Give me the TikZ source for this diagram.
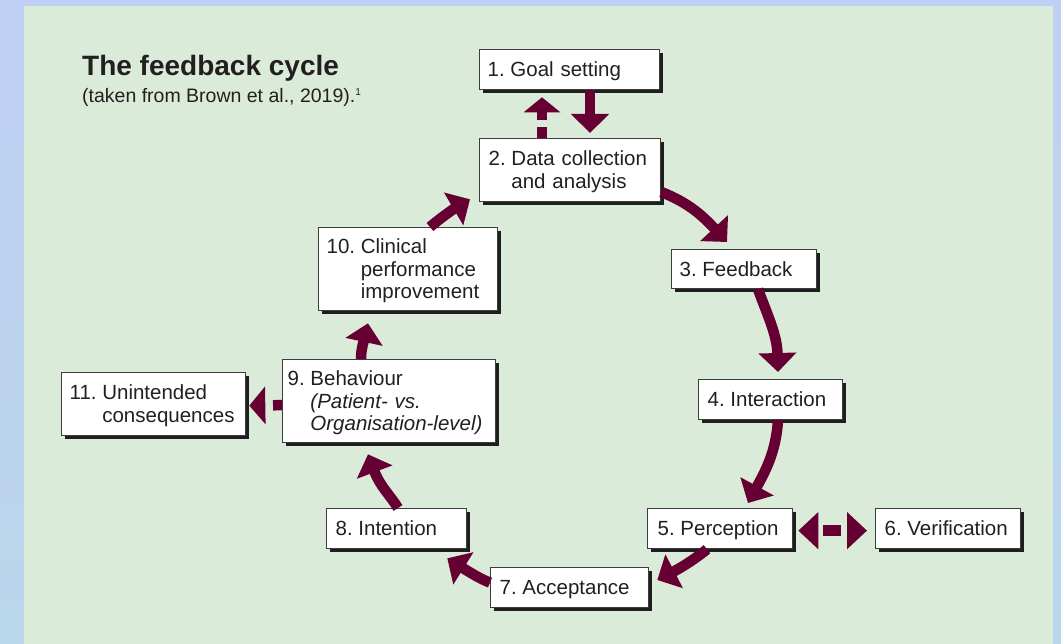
\documentclass[tikz,border=0pt]{standalone}
\usepackage{fontspec}
\setmainfont{Liberation Sans}
\usetikzlibrary{arrows.meta,shadows,calc}
\definecolor{maroonc}{RGB}{102,0,51}
\definecolor{panelc}{RGB}{219,235,218}
\definecolor{bgtop}{RGB}{190,207,243}
\definecolor{bgbot}{RGB}{186,214,234}
\definecolor{textc}{RGB}{35,31,32}
\definecolor{borderc}{RGB}{60,60,60}
\definecolor{shadowc}{RGB}{30,30,30}
\newcommand\bxtab[1]{\setbox\strutbox\hbox{\vrule height18.25pt depth4.25pt width0pt}\begin{tabular}{@{}l@{\hspace{5.7pt}}l@{}}#1\end{tabular}}
\tikzset{
  box/.style={draw=borderc, line width=1.3pt, fill=white,
    drop shadow={shadow xshift=3.5pt,shadow yshift=-3.5pt,opacity=1,fill=shadowc},
    anchor=north west, inner xsep=8pt, inner ysep=0pt,
    font=\fontsize{20.5}{22.5}\selectfont, text=textc, align=left},
  arr/.style={draw=maroonc, line width=10.5pt, -{Triangle[width=37pt,length=19pt]}}
}
\begin{document}
\begin{tikzpicture}[x=1pt,y=-1pt]
\useasboundingbox (0,0) rectangle (1061,644);
\fill[top color=bgtop, bottom color=bgbot] (0,0) rectangle (1061,644);
\fill[panelc] (24,6) rectangle (1053,644);

\node[anchor=base west, inner sep=0pt, font=\fontsize{28}{32}\selectfont\bfseries, text=textc] (title) at (82,76) {The feedback cycle};
\node[anchor=base west, inner sep=0pt, font=\fontsize{19.5}{22}\selectfont, text=textc] (sub) at (82,103) {(taken from Brown et al., 2019).\raisebox{7pt}{\fontsize{10}{10}\selectfont 1}};

\node[box, minimum width=180pt, minimum height=40pt, text width=164pt] (b1) at (479,49) {\bxtab{1. & Goal setting}};
\node[box, minimum width=181pt, minimum height=63pt, inner xsep=9pt, text width=163pt] (b2) at (479,138) {\bxtab{2. & Data collection\\ & and analysis}};
\node[box, minimum width=145pt, minimum height=39pt, text width=129pt] (b3) at (671,249) {\bxtab{3. & Feedback}};
\node[box, minimum width=144pt, minimum height=40pt, inner xsep=9pt, text width=126pt] (b4) at (698,379) {\bxtab{4. & Interaction}};
\node[box, minimum width=145pt, minimum height=40pt, inner xsep=10pt, text width=125pt] (b5) at (647,508) {\bxtab{5. & Perception}};
\node[box, minimum width=145pt, minimum height=40pt, inner xsep=9pt, text width=127pt] (b6) at (875,508) {\bxtab{6. & Verification}};
\node[box, minimum width=158pt, minimum height=40pt, inner xsep=9pt, text width=140pt] (b7) at (490,567) {\bxtab{7. & Acceptance}};
\node[box, minimum width=140pt, minimum height=40pt, inner xsep=9pt, text width=122pt] (b8) at (326,508) {\bxtab{8. & Intention}};
\node[box, minimum width=213pt, minimum height=83pt, inner xsep=5pt, text width=203pt] (b9) at (282,359) {\bxtab{9. & Behaviour\\ & \itshape (Patient- vs.\\ & \itshape Organisation-level)}};
\node[box, minimum width=179pt, minimum height=83pt, text width=163pt] (b10) at (318,227) {\bxtab{10. & Clinical\\ & performance\\ & improvement}};
\node[box, minimum width=184pt, minimum height=63pt, text width=168pt] (b11) at (61,372) {\bxtab{11. & Unintended\\ & consequences}};

% 1 <-> 2 (dashed one drawn from its head end)
\draw[arr, dash pattern=on 9pt off 7pt on 40pt off 10pt, {Triangle[width=36pt,length=15pt]}-] ($(b1.south west)+(63,7)$) -- ($(b2.north west)+(63,0)$);
\draw[arr] ($(b1.south west)+(111,0)$) -- ($(b2.north west)+(111,-5)$);
% cycle
\draw[arr] ($(b2.north east)+(0,54)$) .. controls +(25,10) and +(-27,-29) .. ($(b3.north west)+(56,-7)$);
\draw[arr] ($(b3.south west)+(87,0)$) .. controls +(10,27) and +(-1,-37) .. ($(b4.north west)+(80,-7)$);
\draw[arr] ($(b4.south west)+(80,0)$) .. controls +(-2,31) and +(18,-33) .. ($(b5.north west)+(101,-5)$);
\draw[arr] ($(b5.south west)+(60,0)$) .. controls +(-10,8) and +(27,-14) .. ($(b7.north east)+(8,13)$);
\draw[arr] ($(b7.west)+(0,-5)$) .. controls +(-10,-4) and +(24,15) .. ($(b8.south east)+(-20,9)$);
\draw[arr] ($(b8.north west)+(72,0)$) .. controls +(-8,-13) and +(12,32) .. ($(b9.south west)+(86,11)$);
\draw[arr] ($(b9.north west)+(79,0)$) .. controls +(0,-12) and +(-3,14) .. ($(b10.south west)+(50,12)$);
\draw[arr] ($(b10.north west)+(112,0)$) .. controls +(8,-7) and +(-17,10) .. ($(b2.south west)+(-9,-3)$);
% 5 <-> 6
\draw[arr, {Triangle[width=36pt,length=20pt]}-{Triangle[width=36pt,length=20pt]}, dash pattern=on 0pt off 6pt on 18pt off 100pt] ($(b5.east)+(5,2)$) -- ($(b6.west)+(-8,2)$);
% 9 -> 11
\draw[arr, dash pattern=on 9pt off 9pt, -{Triangle[width=37pt,length=16pt]}] ($(b9.west)+(0,4)$) -- ($(b11.east)+(3,1.5)$);
\end{tikzpicture}
\end{document}
